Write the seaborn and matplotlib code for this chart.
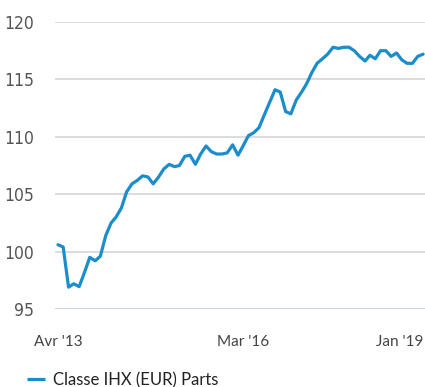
import matplotlib
matplotlib.use("Agg")
import matplotlib.pyplot as plt
from matplotlib import font_manager as fm
import seaborn as sns
import pandas as pd

# Monthly values of the share class, April 2013 - January 2019
months = pd.date_range("2013-04-01", periods=70, freq="MS")
values = [
    100.6, 100.4, 96.9, 97.2, 96.95, 98.2, 99.5, 99.2, 99.6, 101.4,
    102.5, 103.0, 103.8, 105.2, 105.9, 106.2, 106.6, 106.5, 105.9, 106.5,
    107.2, 107.6, 107.4, 107.5, 108.3, 108.4, 107.6, 108.5, 109.2, 108.7,
    108.5, 108.5, 108.6, 109.3, 108.4, 109.2, 110.1, 110.35, 110.8, 111.9,
    113.0, 114.1, 113.9, 112.2, 112.0, 113.2, 113.9, 114.6, 115.6, 116.4,
    116.8, 117.2, 117.8, 117.7, 117.8, 117.8, 117.5, 117.0, 116.6, 117.1,
    116.8, 117.5, 117.5, 117.0, 117.3, 116.7, 116.4, 116.4, 117.0, 117.2,
]
series_name = "Classe IHX (EUR) Parts"
y_ticks = [95, 100, 105, 110, 115, 120]
x_tick_dates = ["2013-04-01", "2016-03-01", "2019-01-01"]
x_tick_labels = ["Avr '13", "Mar '16", "Jan '19"]

df = pd.DataFrame({"date": months, "value": values, "serie": series_name})

sns.set_theme(style="white")
plt.rcParams["font.family"] = ["Lato", "DejaVu Sans"]

# a narrow face for the value axis, if one is installed
fonts = fm.fontManager.ttflist
narrow = [f.fname for f in fonts if f.name == "Liberation Sans Narrow" and "Bold" not in f.fname
          and "Italic" not in f.fname]
dejavu_cond = [f.fname for f in fonts if "DejaVuSansCondensed.ttf" in f.fname]
if narrow:
    ytick_font = fm.FontProperties(fname=narrow[0], size=13.5)
elif dejavu_cond:
    ytick_font = fm.FontProperties(fname=dejavu_cond[0], size=12.5)
else:
    ytick_font = fm.FontProperties(family="Lato", size=12.5)

fig = plt.figure(figsize=(4.25, 3.87), dpi=100)
ax = fig.add_axes([55 / 425, 1 - 309 / 387, 1 - 55 / 425, (309 - 22) / 387])

line_color = "#1b8dcb"
sns.lineplot(data=df, x="date", y="value", hue="serie", palette=[line_color],
             linewidth=2.3, ax=ax, legend=False)

ax.set_ylim(95, 120)
ax.set_xlim(months[0] - pd.Timedelta(days=17), months[-1] + pd.Timedelta(days=11))

ax.set_yticks(y_ticks)
ax.set_yticklabels([str(t) for t in y_ticks], color="#555555")
for lab in ax.get_yticklabels():
    lab.set_fontproperties(ytick_font)
for y in y_ticks:
    ax.axhline(y, color="#c9d3df" if y == 95 else "#dcdcdc", linewidth=1.4, zorder=0)

ax.set_xticks(pd.to_datetime(x_tick_dates))
ax.set_xticklabels(x_tick_labels, fontsize=11, color="#444444")
ax.get_xticklabels()[-1].set_ha("right")

ax.tick_params(axis="both", length=0)
ax.tick_params(axis="y", pad=15)
ax.tick_params(axis="x", pad=19)
ax.set_xlabel("")
ax.set_ylabel("")
for s in ax.spines.values():
    s.set_visible(False)
ax.grid(False)

# legend below the plot
handle = plt.Line2D([], [], color=line_color, linewidth=2.3, solid_capstyle="butt")
fig.legend([handle], [series_name], loc="lower left", bbox_to_anchor=(12 / 425, -16 / 387),
           frameon=False, fontsize=12, handlelength=1.1, handletextpad=0.45,
           labelcolor="#222222")

fig.savefig("out.png", dpi=100)
